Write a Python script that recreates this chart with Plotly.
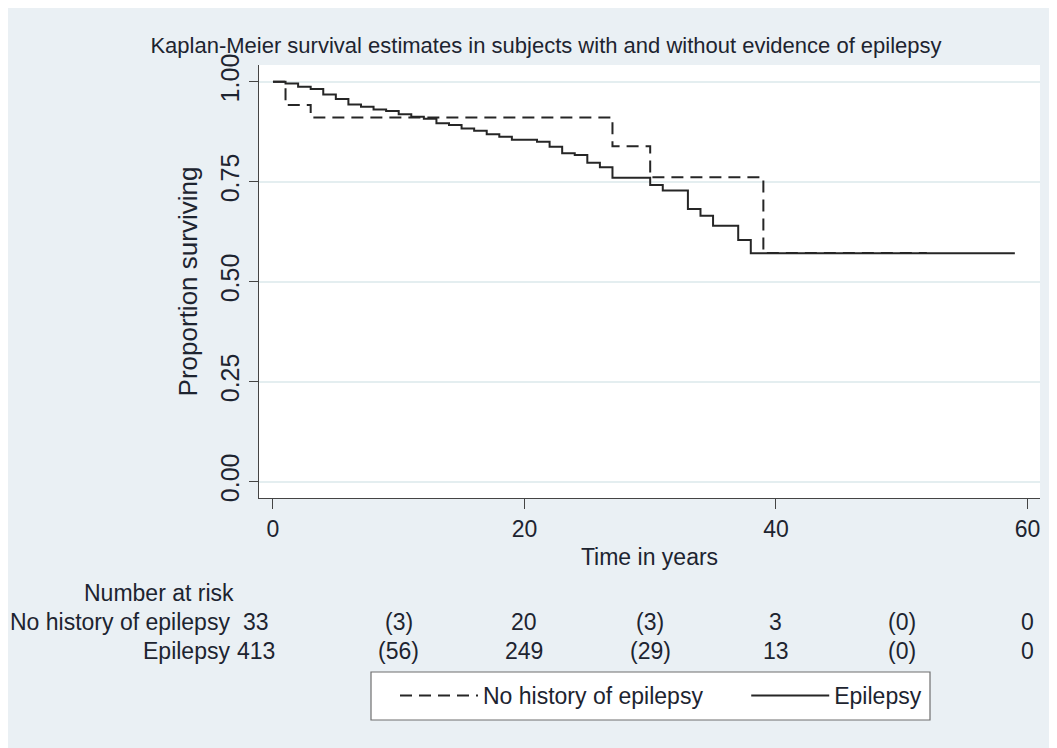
import plotly.graph_objects as go

# ---- data ----
epi_time = [0, 1, 2, 3, 4, 5, 6, 7, 8, 9, 10, 11, 12, 13, 14, 15, 16, 17, 18, 19,
            21, 22, 23, 24, 25, 26, 27, 30, 31, 33, 34, 35, 37, 38, 59]
epi_surv = [1.0, 0.996, 0.9875, 0.982, 0.968, 0.957, 0.943, 0.9375, 0.931, 0.927,
            0.919, 0.9125, 0.9075, 0.896, 0.892, 0.883, 0.8775, 0.869, 0.8625, 0.855,
            0.85, 0.8375, 0.821, 0.817, 0.7975, 0.786, 0.76, 0.742, 0.728, 0.682,
            0.665, 0.64, 0.604, 0.571, 0.571]

nohist_time = [0, 1, 3, 27, 30, 39, 52]
nohist_surv = [1.0, 0.942, 0.911, 0.839, 0.761, 0.572, 0.572]

risk_times = [0, 10, 20, 30, 40, 50, 60]
nohist_risk = ["33", "(3)", "20", "(3)", "3", "(0)", "0"]
epi_risk = ["413", "(56)", "249", "(29)", "13", "(0)", "0"]
risk_rows = ["No history of epilepsy", "Epilepsy"]

x_ticks = [0, 20, 40, 60]
y_ticks = [0.0, 0.25, 0.5, 0.75, 1.0]
y_ticklabels = ["0.00", "0.25", "0.50", "0.75", "1.00"]

FONT = "Liberation Sans, Arial, Helvetica, sans-serif"
TXT = "#1d2430"
LINE = "#262626"

W, H = 1049, 740          # page body has an 8px margin
ML, MR, MT, MB = 251, 17, 57, 250
W_PLOT = W - ML - MR
H_PLOT = H - MT - MB
BOTTOM = H - MB           # pixel of the x axis line (figure coords)


def py(pix_ref):
    # reference pixel (page coords) -> paper y
    return (BOTTOM - (pix_ref - 8)) / H_PLOT


def px(pix_ref):
    # reference pixel (page coords) -> paper x
    return (pix_ref - 8 - ML) / W_PLOT


NBSP = "\u00a0"

fig = go.Figure()
fig.add_trace(go.Scatter(x=nohist_time, y=nohist_surv, mode="lines", line_shape="hv",
                         name="No history of epilepsy" + NBSP * 6,
                         line=dict(color=LINE, width=2, dash="12px,7px")))
fig.add_trace(go.Scatter(x=epi_time, y=epi_surv, mode="lines", line_shape="hv",
                         name="Epilepsy",
                         line=dict(color=LINE, width=2)))

ann = []
ann.append(dict(text="Number at risk", xref="paper", yref="paper", x=0, xshift=-23,
                y=py(593), xanchor="right", yanchor="middle", showarrow=False,
                font=dict(family=FONT, size=23, color=TXT)))
for row_label, vals, ypix in [(risk_rows[0], nohist_risk, 622), (risk_rows[1], epi_risk, 651)]:
    ann.append(dict(text=row_label, xref="paper", yref="paper", x=0, xshift=-27,
                    y=py(ypix), xanchor="right", yanchor="middle", showarrow=False,
                    font=dict(family=FONT, size=23, color=TXT)))
    for t, v in zip(risk_times, vals):
        ann.append(dict(text=v, xref="x", yref="paper", x=t, xshift=(-17 if t == 0 else 0),
                        y=py(ypix), xanchor="center", yanchor="middle", showarrow=False,
                        font=dict(family=FONT, size=23, color=TXT)))

# legend frame (the legend itself is drawn transparent on top of it)
shapes = [dict(type="rect", xref="paper", yref="paper",
               x0=px(371), x1=px(930), y0=py(720), y1=py(672),
               fillcolor="#ffffff", line=dict(color="#6f6f6f", width=1.2), layer="above")]

fig.update_layout(
    width=W, height=H,
    margin=dict(l=ML, r=MR, t=MT, b=MB),
    paper_bgcolor="#eaf0f4",
    plot_bgcolor="#ffffff",
    title=dict(text="Kaplan-Meier survival estimates in subjects with and without evidence of epilepsy",
               x=538 / W, xanchor="center", xref="container", y=1 - 37 / H, yanchor="middle",
               yref="container",
               font=dict(family=FONT, size=22, color=TXT)),
    xaxis=dict(range=[-1.11, 61.0], tickmode="array", tickvals=x_ticks,
               showgrid=False, zeroline=False, showline=True, linecolor="#444", linewidth=1.2,
               ticks="outside", ticklen=10, tickcolor="#444",
               tickfont=dict(family=FONT, size=23, color=TXT),
               title=dict(text="Time in years", standoff=8,
                          font=dict(family=FONT, size=23, color=TXT))),
    yaxis=dict(range=[-0.041, 1.042], tickmode="array", tickvals=y_ticks,
               ticktext=y_ticklabels, tickangle=-90,
               showgrid=True, gridcolor="#e4eef0", gridwidth=1.5, zeroline=False,
               showline=True, linecolor="#444", linewidth=1.2,
               ticks="outside", ticklen=9, tickcolor="#444",
               tickfont=dict(family=FONT, size=25, color=TXT),
               title=dict(text="Proportion surviving", standoff=10,
                          font=dict(family=FONT, size=26, color=TXT))),
    legend=dict(orientation="h", x=px(395), xanchor="left",
                y=py(674), yanchor="top", bgcolor="rgba(0,0,0,0)",
                borderwidth=0, font=dict(family=FONT, size=23, color=TXT),
                itemwidth=78),
    shapes=shapes,
    annotations=ann,
    showlegend=True,
)

fig.write_html("out.html")
